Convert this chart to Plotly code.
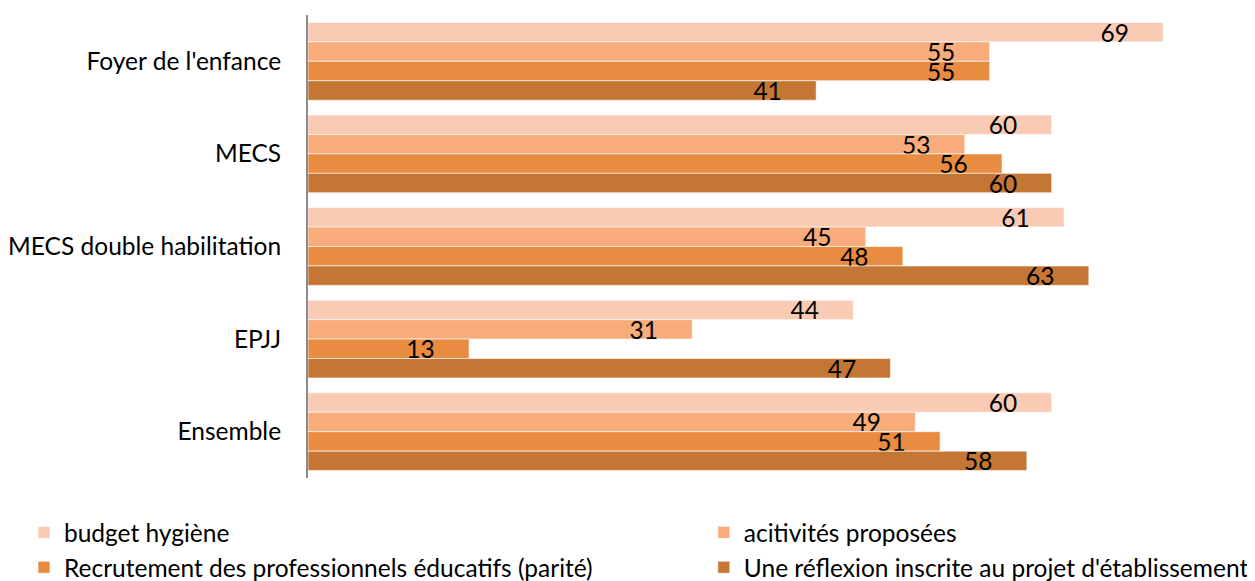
import plotly.graph_objects as go

categories = ["Foyer de l'enfance", "MECS", "MECS double habilitation", "EPJJ", "Ensemble"]
series_names = [
    "budget hygiène",
    "acitivités proposées",
    "Recrutement des professionnels éducatifs (parité)",
    "Une réflexion inscrite au projet d'établissement",
]
budget_hygiene = [69, 60, 61, 44, 60]
activites = [55, 53, 45, 31, 49]
recrutement = [55, 56, 48, 13, 51]
reflexion = [41, 60, 63, 47, 58]
colors = ["#F9CBB5", "#F8AC7B", "#E88C42", "#C47634"]
legend_ids = ["legend", "legend2", "legend", "legend2"]

FONT = "Lato"
FS = 24.5
PAD = "\u00a0" * 5

fig = go.Figure()
for name, vals, col, lg in zip(series_names, [budget_hygiene, activites, recrutement, reflexion], colors, legend_ids):
    fig.add_trace(go.Bar(
        y=categories, x=vals, name=name, orientation="h",
        marker=dict(color=col, line=dict(color="rgba(255,255,255,0.6)", width=1)),
        text=[f"{v}{PAD}" for v in vals],
        textposition="inside", insidetextanchor="end", textangle=0,
        textfont=dict(family=FONT, size=FS, color="black"),
        constraintext="none",
        hoverinfo="x+name",
        legend=lg,
    ))

legend_common = dict(orientation="v", xref="container", yref="container",
                     xanchor="left", yanchor="top", y=0.124,
                     font=dict(size=FS), tracegroupgap=0, traceorder="normal",
                     bgcolor="rgba(0,0,0,0)")

fig.update_layout(
    width=1247, height=573,
    barmode="group", bargap=0.16, bargroupgap=0,
    plot_bgcolor="white", paper_bgcolor="white",
    margin=dict(l=300, r=10, t=7, b=103, autoexpand=False),
    font=dict(family=FONT, size=FS, color="black"),
    xaxis=dict(range=[0, 75.6], showgrid=False, showticklabels=False, zeroline=False, showline=False),
    yaxis=dict(autorange="reversed", showline=True, linecolor="#8C8C8C", linewidth=2,
               ticks="", ticklabelstandoff=20, showgrid=False, tickfont=dict(size=FS)),
    legend=dict(x=0.0128, **legend_common),
    legend2=dict(x=0.558, **legend_common),
    uniformtext=dict(mode=False),
)

fig.write_html("out.html")
